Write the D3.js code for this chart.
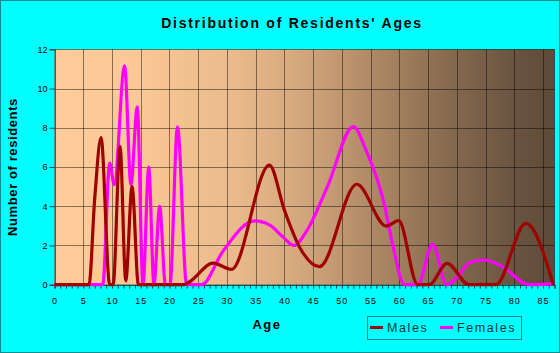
<!DOCTYPE html>
<html lang="en">
<head>
<meta charset="UTF-8">
<title>Distribution of Residents' Ages</title>
<style>
  body { margin: 0; overflow: hidden; background: #00ffff; }
  svg { display: block; font-family: "Liberation Sans", Arial, sans-serif; }
</style>
</head>
<body>
<svg id="chart" width="560" height="353"></svg>
<script src="https://cdnjs.cloudflare.com/ajax/libs/d3/7.8.5/d3.min.js"></script>
<script>
// values
const maleAges   = [0, 6, 7.0, 8.1, 9.6, 10.2, 11.4, 12.4, 13.5, 14.6, 22.5, 23.5, 27.6, 30.8, 37.4, 40.0, 42.6, 46.1, 52.6, 57.7, 59.9, 63.2, 65.2, 68.3, 72.1, 76.8, 82.0, 86.8];
const maleValues = [0, 0, 4.4, 7.5, 0,   0,    7.05, 0.2,  5.0,  0,    0,    0.15, 1.1,  0.78, 6.1,  3.8,  1.94, 0.92, 5.12, 2.99, 3.27, 0,    0,    1.09, 0,    0,    3.13, 0];

const femaleAges   = [0, 8.4, 9.6, 10.4, 12.2, 13.3, 14.4, 15.4, 16.4, 17.3, 18.3, 19.3, 20.1, 21.4, 23.0, 25.6, 29.3, 34.8, 37.4, 39.7, 41.7, 43.8, 47.5, 52.0, 54.2, 57.4, 58.8, 60.9, 63.2, 65.8, 68.2, 70.4, 72.1, 74.7, 77.9, 82.6, 86.8];
const femaleValues = [0, 0,   6.2, 5.1,  11.15, 5.1, 9.05, 0,    6.0,  0,    4.0,  0,    0,    8.05, 0,    0,    1.7,  3.25, 3.05, 2.45, 2.0,  2.7,  5.0,  8.06, 6.87, 4.07, 2.1,  0,    0,    2.06, 0,    0.5,  1.1,  1.26, 0.92, 0,    0.05];

const xTickLabels = [0, 5, 10, 15, 20, 25, 30, 35, 40, 45, 50, 55, 60, 65, 70, 75, 80, 85];
const yTickLabels = [0, 2, 4, 6, 8, 10, 12];

const svg = d3.select("#chart");
const W = 560, H = 353;

const x = d3.scaleLinear().domain([0, 87]).range([54.5, 554.5]);
const y = d3.scaleLinear().domain([0, 12]).range([284.7, 49.3]);

// outer border
svg.append("rect")
  .attr("x", 0.5).attr("y", 0.5).attr("width", W - 1).attr("height", H - 1)
  .attr("fill", "#00ffff").attr("stroke", "#0b8f8f");

// plot background gradient
const grad = svg.append("defs").append("linearGradient")
  .attr("id", "bg").attr("x1", "0%").attr("x2", "100%").attr("y1", "0%").attr("y2", "0%");
[[0, "#ffcc99"], [0.15, "#fcc996"], [0.35, "#ebbb8c"], [0.5, "#d2a67c"], [0.65, "#ab8663"],
 [0.8, "#84684e"], [0.92, "#6a5441"], [1, "#5e4a38"]].forEach(function(s) {
  grad.append("stop").attr("offset", s[0]).attr("stop-color", s[1]);
});

svg.append("rect")
  .attr("x", x(0)).attr("y", y(12))
  .attr("width", x(87) - x(0)).attr("height", y(0) - y(12))
  .attr("fill", "url(#bg)");

// grid
const grid = svg.append("g").attr("stroke", "#000").attr("stroke-opacity", 0.45).attr("stroke-width", 1);
xTickLabels.forEach(function(d) {
  grid.append("line").attr("x1", Math.round(x(d)) + 0.5).attr("x2", Math.round(x(d)) + 0.5)
    .attr("y1", y(12)).attr("y2", y(0));
});
grid.append("line").attr("x1", x(87)).attr("x2", x(87)).attr("y1", y(12)).attr("y2", y(0));
yTickLabels.forEach(function(d) {
  grid.append("line").attr("x1", x(0)).attr("x2", x(87))
    .attr("y1", Math.round(y(d)) + 0.5).attr("y2", Math.round(y(d)) + 0.5);
});

// axes
const xAxis = d3.axisBottom(x).tickValues(d3.range(0, 88, 1)).tickSize(4).tickFormat("");
svg.append("g").attr("transform", "translate(0," + y(0) + ")").call(xAxis)
  .call(function(g) { g.select(".domain").attr("stroke", "#333"); g.selectAll(".tick line").attr("stroke", "#244"); });

svg.append("g").attr("transform", "translate(0," + y(0) + ")")
  .call(d3.axisBottom(x).tickValues(xTickLabels).tickSize(0).tickPadding(13))
  .call(function(g) {
    g.select(".domain").remove();
    g.selectAll("text").attr("font-size", 9).attr("fill", "#000")
      .attr("font-family", "'Liberation Sans', Arial, sans-serif").style("letter-spacing", "1px");
  });

svg.append("g").attr("transform", "translate(" + x(0) + ",0)")
  .call(d3.axisLeft(y).tickValues(yTickLabels).tickSize(5).tickPadding(2))
  .call(function(g) {
    g.select(".domain").attr("stroke", "#244");
    g.selectAll(".tick line").attr("stroke", "#244");
    g.selectAll("text").attr("font-size", 9).attr("fill", "#000")
      .attr("font-family", "'Liberation Sans', Arial, sans-serif");
  });

// series
const line = d3.line().curve(d3.curveMonotoneX).x(function(d) { return x(d[0]); }).y(function(d) { return y(d[1]); });

svg.append("path")
  .datum(d3.zip(femaleAges, femaleValues))
  .attr("d", line).attr("fill", "none").attr("stroke", "#ff00ff").attr("stroke-width", 3.2)
  .attr("stroke-linejoin", "round");

svg.append("path")
  .datum(d3.zip(maleAges, maleValues))
  .attr("d", line).attr("fill", "none").attr("stroke", "#a00000").attr("stroke-width", 3.2)
  .attr("stroke-linejoin", "round");

// titles
svg.append("text").attr("x", 292).attr("y", 27.5).attr("text-anchor", "middle")
  .attr("font-size", 14).attr("font-weight", "bold").style("letter-spacing", "1.75px")
  .text("Distribution of Residents' Ages");

svg.append("text").attr("transform", "translate(16.5,167) rotate(-90)").attr("text-anchor", "middle")
  .attr("font-size", 13).attr("font-weight", "bold").style("letter-spacing", "0.6px")
  .text("Number of residents");

svg.append("text").attr("x", 267).attr("y", 328.5).attr("text-anchor", "middle")
  .attr("font-size", 13).attr("font-weight", "bold").style("letter-spacing", "1.5px")
  .text("Age");

// legend
const legend = svg.append("g");
legend.append("rect").attr("x", 367.5).attr("y", 316.5).attr("width", 154).attr("height", 23)
  .attr("fill", "none").attr("stroke", "#0b8080");
const legendItems = [["Males", "#a00000", 370], ["Females", "#ff00ff", 440]];
legendItems.forEach(function(it) {
  legend.append("line").attr("x1", it[2]).attr("x2", it[2] + 13).attr("y1", 327.5).attr("y2", 327.5)
    .attr("stroke", it[1]).attr("stroke-width", 3);
  legend.append("text").attr("x", it[2] + 17).attr("y", 332).attr("font-size", 12.5)
    .attr("fill", "#033").style("letter-spacing", "1.6px").text(it[0]);
});
</script>
</body>
</html>
